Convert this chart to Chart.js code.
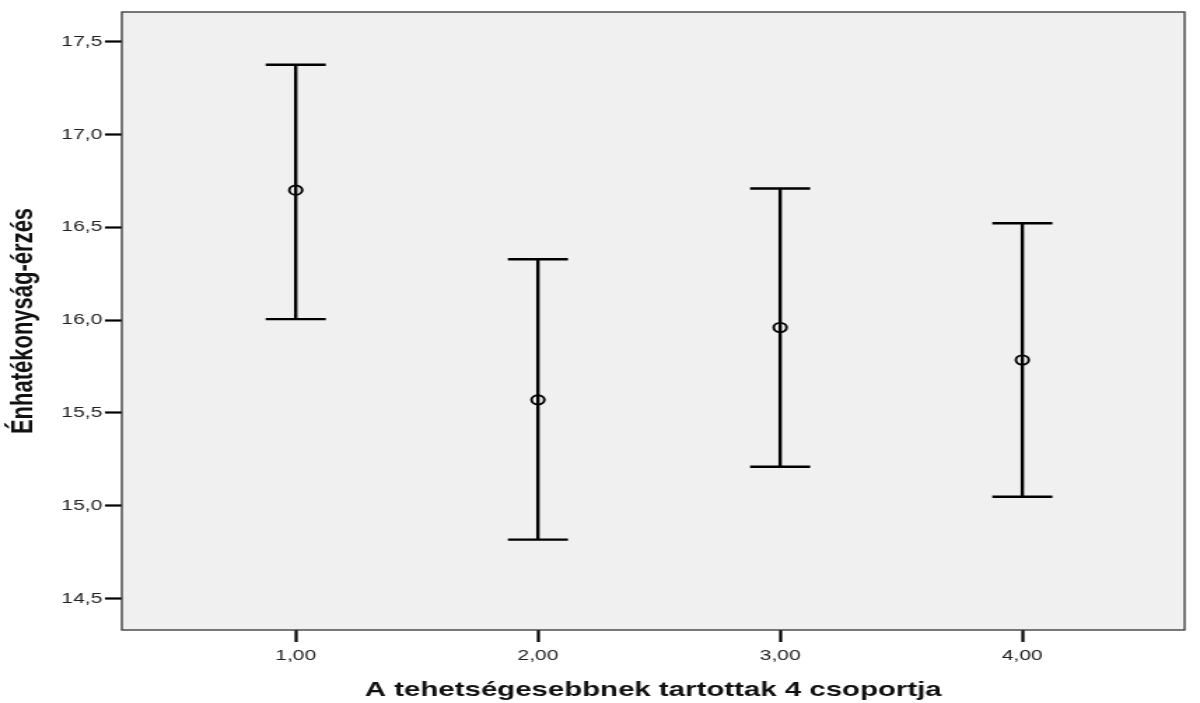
<!DOCTYPE html>
<html>
<head>
<meta charset="utf-8">
<script src="https://cdn.jsdelivr.net/npm/chart.js@4.4.1/dist/chart.umd.min.js"></script>
<style>
  html, body { margin: 0; padding: 0; background: #fff; }
  /* the original export is stretched sideways ~1.4x, so draw narrow and stretch */
  #chart { display: block; width: 1200px !important; height: 703px !important; }
</style>
</head>
<body>
<canvas id="chart" width="857" height="703"></canvas>
<script>
// group codes and the mean / 95% CI
const groups = [1, 2, 3, 4];
const means = [16.70, 15.57, 15.96, 15.785];
const lower = [16.005, 14.817, 15.21, 15.048];
const upper = [17.376, 16.328, 16.709, 16.522];
const yTicks = [14.5, 15.0, 15.5, 16.0, 16.5, 17.0, 17.5];

const font = "Arial, 'Liberation Sans', sans-serif";

// light grey plot background + dark frame
const plotBg = {
  id: 'plotBg',
  beforeDraw(chart) {
    const { ctx, chartArea: a } = chart;
    ctx.save();
    ctx.fillStyle = '#f0f0f0';
    ctx.fillRect(a.left, a.top, a.right - a.left, a.bottom - a.top);
    ctx.restore();
  },
  afterDraw(chart) {
    const { ctx, chartArea: a } = chart;
    ctx.save();
    ctx.strokeStyle = '#333';
    ctx.lineWidth = 1.3;
    ctx.strokeRect(a.left, a.top, a.right - a.left, a.bottom - a.top);
    ctx.restore();
  }
};

// error bars from lower/upper through the scales
const errorBars = {
  id: 'errorBars',
  beforeDatasetsDraw(chart) {
    const { ctx, scales: { x, y } } = chart;
    ctx.save();
    ctx.strokeStyle = '#000';
    ctx.lineWidth = 2.4;
    groups.forEach((g, i) => {
      const px = x.getPixelForValue(g);
      const half = x.getPixelForValue(g + 0.124) - px;
      const top = y.getPixelForValue(upper[i]);
      const bot = y.getPixelForValue(lower[i]);
      ctx.beginPath();
      ctx.moveTo(px, top); ctx.lineTo(px, bot);
      ctx.moveTo(px - half, top); ctx.lineTo(px + half, top);
      ctx.moveTo(px - half, bot); ctx.lineTo(px + half, bot);
      ctx.stroke();
    });
    ctx.restore();
  }
};

new Chart(document.getElementById('chart'), {
  type: 'scatter',
  data: {
    datasets: [{
      data: groups.map((g, i) => ({ x: g, y: means[i] })),
      pointStyle: 'circle',
      pointRadius: 4.6,
      pointBorderWidth: 1.9,
      pointBorderColor: '#000',
      pointBackgroundColor: 'rgba(0,0,0,0)'
    }]
  },
  options: {
    responsive: false,
    animation: false,
    layout: { padding: { top: 12, right: 11, left: 0, bottom: 0 } },
    plugins: { legend: { display: false }, tooltip: { enabled: false } },
    scales: {
      x: {
        type: 'linear',
        min: 0.282,
        max: 4.67,
        afterBuildTicks(s) { s.ticks = groups.map(v => ({ value: v })); },
        afterFit(s) { s.height = 73; },
        grid: { drawOnChartArea: false, drawTicks: true, tickLength: 12, tickWidth: 2.2, tickColor: '#000' },
        border: { display: false },
        ticks: {
          color: '#222',
          font: { family: font, size: 15 },
          padding: 5,
          callback: v => v.toFixed(2).replace('.', ',')
        },
        title: {
          display: true,
          text: 'A tehetségesebbnek tartottak 4 csoportja',
          color: '#111',
          font: { family: font, size: 21, weight: 'bold' },
          padding: { top: 10, bottom: 0 }
        }
      },
      y: {
        min: 14.33,
        max: 17.66,
        afterBuildTicks(s) { s.ticks = yTicks.map(v => ({ value: v })); },
        afterFit(s) { s.width = 87; },
        grid: { drawOnChartArea: false, drawTicks: true, tickLength: 12, tickWidth: 2.2, tickColor: '#000' },
        border: { display: false },
        ticks: {
          color: '#222',
          font: { family: font, size: 15 },
          padding: 2,
          callback: v => v.toFixed(1).replace('.', ',')
        },
        title: {
          display: true,
          text: 'Énhatékonyság-érzés',
          color: '#111',
          font: { family: font, size: 22, weight: 'bold' },
          padding: { top: 4, bottom: 10 }
        }
      }
    }
  },
  plugins: [plotBg, errorBars]
});
</script>
</body>
</html>
